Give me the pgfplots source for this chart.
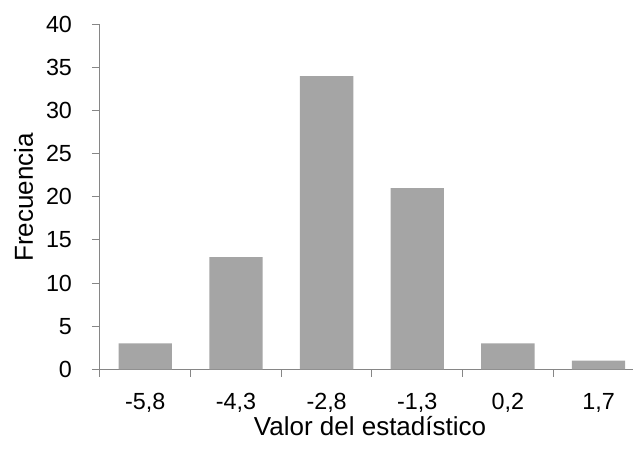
\documentclass[border=0pt]{standalone}
\usepackage{fontspec}
\setmainfont{Liberation Sans}
\usepackage{pgfplots}
\pgfplotsset{compat=1.18}
\definecolor{barfill}{HTML}{A5A5A5}
\definecolor{axgray}{HTML}{868686}
\newcommand{\tickfont}{\fontsize{17.5}{20}\selectfont}
\begin{document}
\begin{tikzpicture}[x=1pt,y=1pt]
\begin{axis}[
  scale only axis,
  width=399.75pt, height=258.75pt,
  ymin=0, ymax=40,
  xmin=-0.5, xmax=5.38,
  ytick={0,5,...,40},
  xtick={0,...,5},
  xticklabels={{-5,8},{-4,3},{-2,8},{-1,3},{0,2},{1,7}},
  minor xtick={-0.5,0.5,...,4.5},
  axis lines*=left,
  axis line style={draw=axgray, line width=0.75pt},
  tick align=outside,
  major tick length=6pt,
  minor tick length=5.5pt,
  ytick style={draw=axgray, line width=0.75pt},
  major x tick style={draw=none},
  minor x tick style={draw=axgray, line width=0.75pt},
  tick label style={font=\tickfont},
  /pgf/number format/assume math mode=true,
  yticklabel style={xshift=-11.5pt},
  xticklabel style={yshift=-8.5pt},
  label style={font=\fontsize{19.5}{23}\selectfont},
  xlabel={Valor del estadístico},
  ylabel={Frecuencia},
  xlabel style={at={(axis description cs:0.5066,-0.1904)}, anchor=base},
  ylabel style={at={(axis description cs:-0.1257,0.498)}, anchor=base, rotate=0},
  ybar, bar width=40pt,
  clip=false,
]
\addplot[fill=barfill, draw=none] coordinates {
  (0,3) (1,13) (2,34) (3,21) (4,3) (5,1)
};
\end{axis}
\pgfresetboundingbox
\path[use as bounding box] ([xshift=-75pt,yshift=-60.5pt]current axis.south west)
  rectangle ([xshift=400.5pt,yshift=277pt]current axis.south west);
\end{tikzpicture}
\end{document}
